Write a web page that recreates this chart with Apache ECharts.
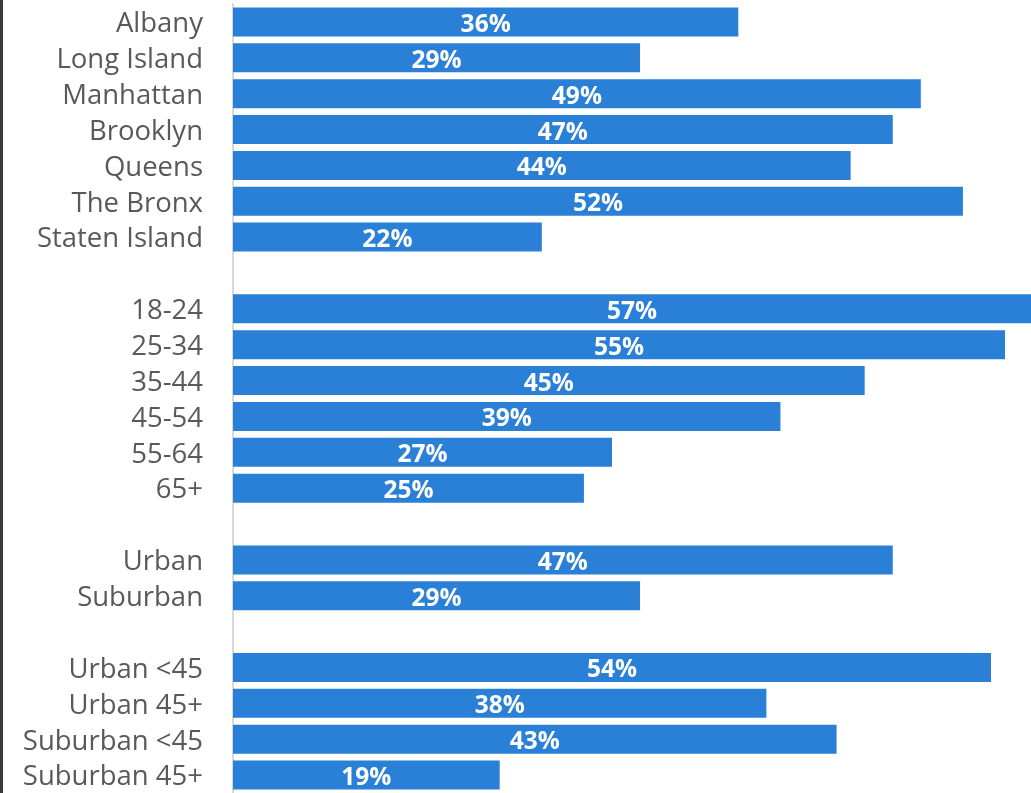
<!DOCTYPE html>
<html>
<head>
<meta charset="utf-8">
<script src="https://cdn.jsdelivr.net/npm/echarts@6/dist/echarts.min.js"></script>
<style>
  html, body { margin: 0; padding: 0; background: #fff; }
  #frame { position: absolute; left: 0; top: 0; width: 3px; height: 793px; background: #3a3a3a; }
  #chart { width: 1031px; height: 793px; }
</style>
</head>
<body>
<div id="frame"></div>
<div id="chart"></div>
<script>
// categories ('' rows are spacers between groups)
const categories = [
  'Albany', 'Long Island', 'Manhattan', 'Brooklyn', 'Queens', 'The Bronx', 'Staten Island',
  '',
  '18-24', '25-34', '35-44', '45-54', '55-64', '65+',
  '',
  'Urban', 'Suburban',
  '',
  'Urban <45', 'Urban 45+', 'Suburban <45', 'Suburban 45+'
]
const values = [
  36, 29, 49, 47, 44, 52, 22,
  null,
  57, 55, 45, 39, 27, 25,
  null,
  47, 29,
  null,
  54, 38, 43, 19
]

const myEchart = echarts.init(document.getElementById('chart'))
const options = {
  animation: false,
  grid: {
    top: 4,
    bottom: 0,
    left: 233,
    right: 0
  },
  xAxis: {
    type: 'value',
    min: 0,
    max: 56.85,
    show: false
  },
  yAxis: {
    type: 'category',
    inverse: true,
    data: categories,
    axisLine: { lineStyle: { color: '#d9d9d9', width: 2 } },
    axisTick: { show: false },
    axisLabel: {
      interval: 0,
      hideOverlap: false,
      margin: 30,
      formatter: (v) => v ? '{a|' + v + '}' : '',
      rich: {
        a: {
          color: '#595959',
          fontSize: 27.5,
          fontFamily: 'Open Sans',
          padding: [5, 0, 0, 0]
        }
      }
    }
  },
  series: [
    {
      type: 'bar',
      data: values,
      barWidth: 29,
      itemStyle: { color: '#2a7fd6' },
      label: {
        show: true,
        position: 'inside',
        offset: [0, 3],
        formatter: '{c}%',
        color: '#fff',
        fontWeight: 'bold',
        fontSize: 24.5,
        fontFamily: 'Open Sans'
      }
    }
  ]
}
myEchart.setOption(options)
</script>
</body>
</html>
